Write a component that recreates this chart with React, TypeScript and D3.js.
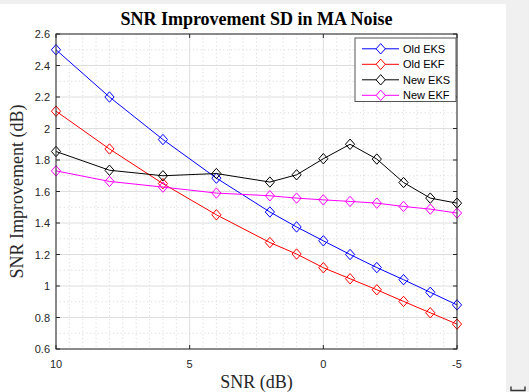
import React from "react";
import * as d3 from "d3";

const snr = [10, 8, 6, 4, 2, 1, 0, -1, -2, -3, -4, -5];
const oldEKS = [2.5, 2.2, 1.93, 1.685, 1.47, 1.375, 1.287, 1.2, 1.117, 1.04, 0.96, 0.88];
const oldEKF = [2.11, 1.87, 1.65, 1.452, 1.276, 1.203, 1.116, 1.046, 0.976, 0.902, 0.83, 0.758];
const newEKS = [1.854, 1.735, 1.7, 1.714, 1.66, 1.706, 1.808, 1.9, 1.806, 1.657, 1.558, 1.526];
const newEKF = [1.731, 1.664, 1.628, 1.59, 1.573, 1.558, 1.547, 1.537, 1.526, 1.505, 1.488, 1.463];

const seriesNames = ["Old EKS", "Old EKF", "New EKS", "New EKF"];
const seriesColors = ["#0000ff", "#ff0000", "#000000", "#ff00ff"];
const seriesValues = [oldEKS, oldEKF, newEKS, newEKF];

const xTicks = [10, 5, 0, -5];
const yTicks = [0.6, 0.8, 1, 1.2, 1.4, 1.6, 1.8, 2, 2.2, 2.4, 2.6];

const title = "SNR Improvement SD in MA Noise";
const xLabel = "SNR (dB)";
const yLabel = "SNR Improvement (dB)";

const W = 529;
const H = 392;
const L = 56, R = 457, T = 34, B = 349;

function diamond(cx: number, cy: number) {
  const hw = 4.6, hh = 5.2;
  return `M${cx},${cy - hh}L${cx + hw},${cy}L${cx},${cy + hh}L${cx - hw},${cy}Z`;
}

export default function App() {
  const x = d3.scaleLinear().domain([10, -5]).range([L, R]);
  const y = d3.scaleLinear().domain([0.6, 2.6]).range([B, T]);
  const line = d3.line<number>().x((_, i) => x(snr[i])).y((d) => y(d));

  const xMinor = d3.range(-5, 10.001, 0.5).filter((v) => !xTicks.includes(v));
  const yMinor = d3.range(0.6, 2.6001, 0.1).map((v) => Math.round(v * 10) / 10).filter((v) => !yTicks.some((t) => Math.abs(t - v) < 1e-6));

  const axisColor = "#262626";
  const tickFont = "'Liberation Sans', Arial, sans-serif";
  const serif = "'Liberation Serif', 'Times New Roman', serif";

  const legX = 355, legY = 38, legW = 101, legH = 63.5;

  return (
    <svg width={W} height={H} style={{ position: "absolute", left: 0, top: 0 }}>
      <rect x={0} y={0} width={W} height={H} fill="#f0f0f0" />
      <rect x={0} y={4} width={506} height={H - 4} fill="#ffffff" />
      {/* minor grid */}
      {xMinor.map((v) => (
        <line key={"xm" + v} x1={x(v)} x2={x(v)} y1={T} y2={B} stroke="#d4d4d4" strokeWidth={0.8} strokeDasharray="1.2,2.6" />
      ))}
      {yMinor.map((v) => (
        <line key={"ym" + v} x1={L} x2={R} y1={y(v)} y2={y(v)} stroke="#d4d4d4" strokeWidth={0.8} strokeDasharray="1.2,2.6" />
      ))}
      {/* major grid */}
      {xTicks.map((v) => (
        <line key={"xg" + v} x1={x(v)} x2={x(v)} y1={T} y2={B} stroke="#dedede" strokeWidth={1} />
      ))}
      {yTicks.map((v) => (
        <line key={"yg" + v} x1={L} x2={R} y1={y(v)} y2={y(v)} stroke="#dedede" strokeWidth={1} />
      ))}
      {/* series */}
      {seriesValues.map((vals, si) => (
        <g key={"s" + si}>
          <path d={line(vals) || ""} fill="none" stroke={seriesColors[si]} strokeWidth={1} />
          {vals.map((v, i) => (
            <path key={i} d={diamond(x(snr[i]), y(v))} fill="none" stroke={seriesColors[si]} strokeWidth={1} />
          ))}
        </g>
      ))}
      {/* axes box */}
      <rect x={L} y={T} width={R - L} height={B - T} fill="none" stroke={axisColor} strokeWidth={1} />
      {xTicks.map((v) => (
        <g key={"xt" + v}>
          <line x1={x(v)} x2={x(v)} y1={B} y2={B - 4} stroke={axisColor} />
          <line x1={x(v)} x2={x(v)} y1={T} y2={T + 4} stroke={axisColor} />
          <text x={x(v)} y={368} textAnchor="middle" fontFamily={tickFont} fontSize={11} fill={axisColor}>
            {v}
          </text>
        </g>
      ))}
      {yTicks.map((v) => (
        <g key={"yt" + v}>
          <line x1={L} x2={L + 4} y1={y(v)} y2={y(v)} stroke={axisColor} />
          <line x1={R} x2={R - 4} y1={y(v)} y2={y(v)} stroke={axisColor} />
          <text x={50} y={y(v) + 4} textAnchor="end" fontFamily={tickFont} fontSize={11} fill={axisColor}>
            {v}
          </text>
        </g>
      ))}
      {/* title & labels */}
      <text x={(L + R) / 2} y={25} textAnchor="middle" fontFamily={serif} fontWeight="bold" fontSize={18} fill="#000">
        {title}
      </text>
      <text x={(L + R) / 2} y={388} textAnchor="middle" fontFamily={serif} fontSize={18} fill={axisColor}>
        {xLabel}
      </text>
      <text transform={`translate(23,${(T + B) / 2}) rotate(-90)`} textAnchor="middle" fontFamily={serif} fontSize={18} fill={axisColor}>
        {yLabel}
      </text>
      {/* legend */}
      <rect x={legX} y={legY} width={legW} height={legH} fill="#ffffff" stroke="#555" strokeWidth={1} />
      {seriesNames.map((name, i) => {
        const cy = 48.8 + i * 15.5;
        return (
          <g key={"lg" + i}>
            <line x1={362} x2={399} y1={cy} y2={cy} stroke={seriesColors[i]} strokeWidth={1} />
            <path d={diamond(380.7, cy)} fill="#fff" stroke={seriesColors[i]} strokeWidth={1} />
            <text x={403} y={cy + 4} fontFamily={tickFont} fontSize={11} fill="#000">
              {name}
            </text>
          </g>
        );
      })}
      {/* small glyph bottom right */}
      <path d="M511,386.5 v4 h14 v-4" fill="none" stroke="#333" strokeWidth={1.4} />
    </svg>
  );
}
